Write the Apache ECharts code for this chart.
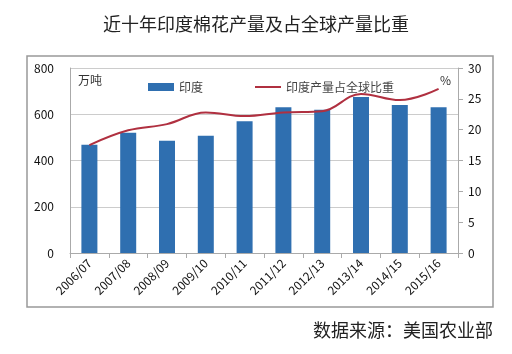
<!DOCTYPE html>
<html>
<head>
<meta charset="utf-8">
<script src="https://cdn.jsdelivr.net/npm/echarts@6/dist/echarts.min.js"></script>
<style>
  html, body { margin: 0; padding: 0; background: #fff; }
  #main { width: 512px; height: 354px; }
</style>
</head>
<body>
<div id="main"></div>
<script>
// 近十年印度棉花产量及占全球产量比重
const years = ['2006/07', '2007/08', '2008/09', '2009/10', '2010/11', '2011/12', '2012/13', '2013/14', '2014/15', '2015/16'];
const output = [468, 520, 485, 507, 570, 630, 620, 675, 640, 630];       // 万吨
const share = [17.5, 19.9, 20.9, 22.8, 22.2, 22.8, 23.0, 25.8, 24.8, 26.6]; // %

const chart = echarts.init(document.getElementById('main'));
const font = '"Noto Sans CJK SC", "Noto Sans", sans-serif';

chart.setOption({
    animation: false,
    textStyle: { fontFamily: font },
    title: {
        text: '近十年印度棉花产量及占全球产量比重',
        left: 'center',
        top: 10,
        textStyle: { fontSize: 18, fontWeight: 'normal', color: '#222', fontFamily: font }
    },
    graphic: [
        {
            type: 'rect',
            shape: { x: 27, y: 56, width: 466, height: 251 },
            style: { fill: 'none', stroke: '#999', lineWidth: 1.5 },
            z: -1
        },
        {
            type: 'text', left: 78, top: 74,
            style: { text: '万吨', fontSize: 12, fill: '#333', fontFamily: font }
        },
        {
            type: 'text', left: 440, top: 74,
            style: { text: '%', fontSize: 12, fill: '#333', fontFamily: font }
        },
        {
            type: 'text', right: 19, top: 321,
            style: { text: '数据来源：美国农业部', fontSize: 18, fill: '#222', fontFamily: font }
        }
    ],
    legend: {
        top: 76,
        left: 143,
        itemGap: 52,
        itemWidth: 26,
        itemHeight: 8,
        textStyle: { fontSize: 12, color: '#444' },
        data: [
            { name: '印度', icon: 'rect' },
            { name: '印度产量占全球比重', icon: 'path://M0,4 L26,4 L26,6 L0,6 Z' }
        ]
    },
    grid: { left: 70, right: 54, top: 68, bottom: 101 },
    xAxis: {
        type: 'category',
        data: years,
        axisLine: { lineStyle: { color: '#aaa' } },
        axisTick: { show: true, alignWithLabel: false, lineStyle: { color: '#aaa' } },
        axisLabel: { rotate: 45, fontSize: 12, color: '#111', interval: 0, margin: 8 }
    },
    yAxis: [
        {
            type: 'value', min: 0, max: 800, interval: 200,
            axisLine: { show: true, lineStyle: { color: '#aaa' } },
            axisTick: { show: false },
            axisLabel: { fontSize: 12, color: '#111', margin: 16 },
            splitLine: { lineStyle: { color: '#ccc' } }
        },
        {
            type: 'value', min: 0, max: 30, interval: 5,
            axisLine: { show: true, lineStyle: { color: '#aaa' } },
            axisTick: { show: true, length: 5, lineStyle: { color: '#aaa' } },
            axisLabel: { fontSize: 12, color: '#111', margin: 10 },
            splitLine: { show: false }
        }
    ],
    series: [
        {
            name: '印度',
            type: 'bar',
            data: output,
            barWidth: 16,
            itemStyle: { color: '#2f6fb0' }
        },
        {
            name: '印度产量占全球比重',
            type: 'line',
            yAxisIndex: 1,
            data: share,
            smooth: 0.4,
            symbol: 'none',
            lineStyle: { color: '#b03040', width: 2 },
            itemStyle: { color: '#b03040' }
        }
    ]
});
window.addEventListener('resize', () => chart.resize());
</script>
</body>
</html>
